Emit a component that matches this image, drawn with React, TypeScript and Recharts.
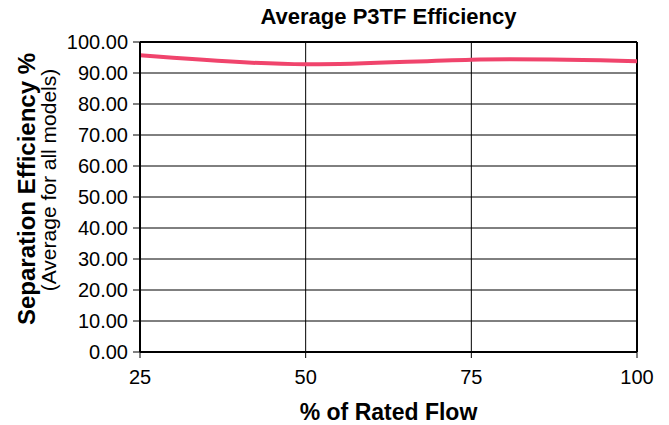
import React from 'react';
import { LineChart, Line, XAxis, YAxis, CartesianGrid, ReferenceLine, Label } from 'recharts';

const flow = [25, 50, 75, 100];
const efficiency = [95.7, 92.8, 94.3, 93.8];
const xTicks = [25, 50, 75, 100];
const yTicks = [0, 10, 20, 30, 40, 50, 60, 70, 80, 90, 100];

const data = flow.map((f, i) => ({ flow: f, eff: efficiency[i] }));

const FONT = 'Liberation Sans, Arial, sans-serif';

const YLabel = () => {
  const c1 = 189;
  const c2 = 180;
  return (
    <g>
      <text x={26} y={c1} transform={`rotate(-90, 26, ${c1})`} textAnchor="middle" dominantBaseline="central"
        fontFamily={FONT} fontWeight="bold" fontSize={24} fill="#000">Separation Efficiency %</text>
      <text x={48} y={c2} transform={`rotate(-90, 48, ${c2})`} textAnchor="middle" dominantBaseline="central"
        fontFamily={FONT} fontSize={21} fill="#000">(Average for all models)</text>
    </g>
  );
};

export default function App() {
  return (
    <div style={{ position: 'absolute', left: 0, top: 0, width: 669, height: 425, background: '#fff' }}>
      <div style={{ position: 'absolute', left: 140, width: 497, top: 4, textAlign: 'center', fontFamily: FONT, fontWeight: 'bold', fontSize: 22, lineHeight: '26px', color: '#000' }}>
        Average P3TF Efficiency
      </div>
      <LineChart width={669} height={425} data={data} margin={{ top: 42, right: 32, bottom: 0, left: 0 }}>
        <CartesianGrid stroke="#000" strokeWidth={1} horizontalValues={yTicks} verticalValues={xTicks} />
        <XAxis dataKey="flow" type="number" domain={[25, 100]} ticks={xTicks} height={73}
          stroke="#000" strokeWidth={2} tickSize={6} tickMargin={12} tickLine={{ stroke: '#000', strokeWidth: 1 }}
          tick={{ fill: '#000', fontFamily: FONT, fontSize: 20 }}>
          <Label value="% of Rated Flow" position="insideBottom" offset={5} fill="#000" fontFamily={FONT} fontWeight="bold" fontSize={23} />
        </XAxis>
        <YAxis type="number" domain={[0, 100]} ticks={yTicks} width={140} interval={0}
          stroke="#000" strokeWidth={2} tickSize={7} tickMargin={5} tickLine={{ stroke: '#000', strokeWidth: 1 }}
          tickFormatter={(v: number) => v.toFixed(2)}
          tick={{ fill: '#000', fontFamily: FONT, fontSize: 20 }}>
          <Label content={<YLabel />} />
        </YAxis>
        <ReferenceLine y={100} stroke="#000" strokeWidth={2} />
        <ReferenceLine x={100} stroke="#000" strokeWidth={2} />
        <Line type="natural" dataKey="eff" stroke="#f0446c" strokeWidth={4} dot={false} isAnimationActive={false} />
      </LineChart>
    </div>
  );
}
